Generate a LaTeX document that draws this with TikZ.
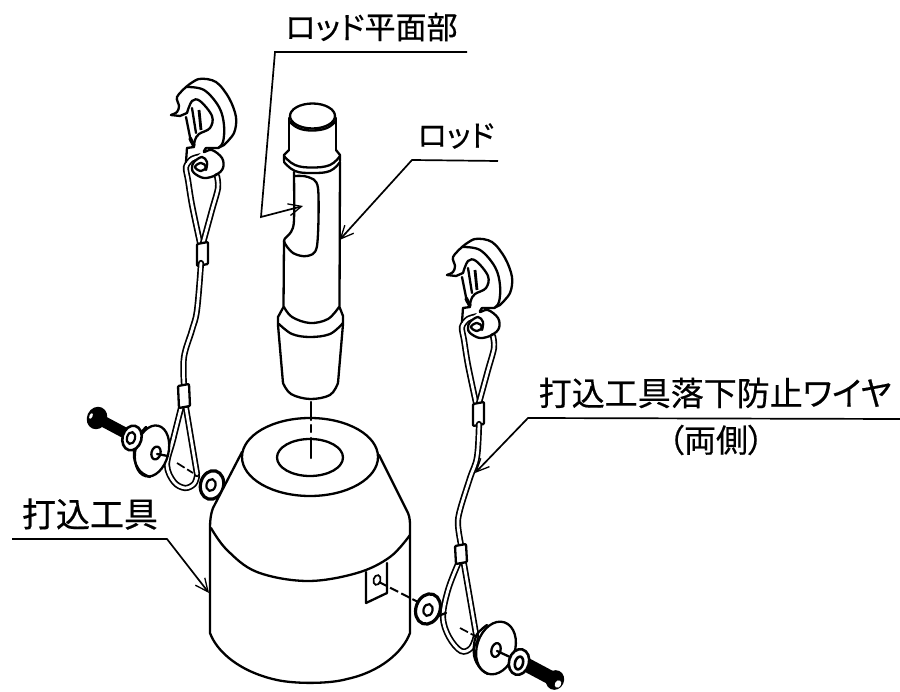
\documentclass[tikz,border=0pt]{standalone}
\usepackage{fontspec}
\usetikzlibrary{arrows.meta}
\setmainfont{Noto Sans CJK JP}[FakeBold=0.5,RawFeature=+palt]
\tikzset{
  ln/.style={line width=2.3pt,line join=round,line cap=round},
  wirestrip/.style={line width=1.7pt,double=white,double distance=2.8pt,line cap=round},
  leader/.style={line width=1.7pt,line join=miter,-{Straight Barb[length=13pt,width=12pt,line width=1.3pt]}},
  lab/.style={inner sep=0pt,font=\fontsize{#1}{#1}\selectfont},
  lab/.default=33
}
\newcommand{\hookdrawing}{%
  % thimble strips (behind the hook eye)
  \draw[wirestrip] plot[smooth,tension=.5] coordinates {(476,403) (468,365) (464,340) (462,327) (468,319) (478,316)};
  \draw[wirestrip] plot[smooth,tension=.5] coordinates {(479,403) (488,370) (494,348) (493,336)};
  % hook back face
  \draw[ln,fill=white] plot[smooth,tension=.55] coordinates {(462,247) (475,239) (492,242) (505,258) (512,277) (510,293) (500,305)} -- (494,308) -- cycle;
  % hook front face
  \path[fill=white] (447,275) -- (453,257) -- (462,247) -- (480,250) -- (495,267) -- (500,285) -- (499,302) -- (494,308) -- (463,308) -- (463,276) -- cycle;
  \draw[ln] plot[smooth,tension=.55] coordinates {(447,275) (453,272) (455,266) (453,257) (462,247)};
  \draw[ln] plot[smooth,tension=.6] coordinates {(462,247) (480,250) (495,267) (500,285) (499,302) (494,308)} -- (482,308);
  \draw[ln] (447,275) -- (456,276) -- (463,273);
  \draw[ln] plot[smooth,tension=.6] coordinates {(463,273) (468,261) (476,261) (488,276) (486,288) (475,294) (471,300) (470,307)};
  \draw[ln] (463,308) -- (470,307);
  \draw[ln] (462,277) -- (467,302);
  \draw[ln] (468,268) -- (472,293);
  \draw[line width=2.8pt] (475,270) -- (477,290);
  \draw[line width=3.6pt] (466,298) -- (470,306);
  % lower eye
  \draw[ln] (463,308) -- (462,322);
  \path[fill=white] (482,308) -- (498,318) -- (499,328) -- (480,338) -- (469,328) -- (472,318) -- cycle;
  \draw[ln] plot[smooth,tension=.6] coordinates {(482,308) (480,312) (488,310) (498,318) (499,328) (492,335) (480,338) (470,333) (468,328) (470,322) (478,317) (483,322) (482,330)};
  \draw[ln] plot[smooth cycle,tension=.7] coordinates {(471,327) (477,323) (482,327) (477,331)};
  % ferrule
  \draw[ln,fill=white,rounded corners=1pt] (473,404) -- (484,402) -- (484,424) -- (473,426) -- cycle;
}
\begin{document}
\begin{tikzpicture}[x=1pt,y=-1pt]
\useasboundingbox (0,0) rectangle (900,692);
\fill[white] (0,0) rectangle (900,692);

% hooks
\hookdrawing
\begin{scope}[shift={(-276,-160)}]\hookdrawing\end{scope}

% left wire, thimble, hardware
\draw[wirestrip] plot[smooth,tension=.6] coordinates {(201,263) (197,310) (192,330) (184,357) (184,385)};
\draw[wirestrip] plot[smooth,tension=.6] coordinates {(181,408) (173,440) (167,465) (174,482) (185,488) (194,484) (197,476)};
\draw[wirestrip] (186,408) -- (197,474);
\draw[ln,fill=white,rounded corners=1pt] (178,386) -- (189,384) -- (190,406) -- (179,408) -- cycle;
\draw[line width=1.7pt,dash pattern=on 9pt off 3pt] (177,463) -- (193,473);
\draw[ln,fill=white] (152,451) ellipse[x radius=16.5,y radius=26,rotate=-14];
\draw[ln] plot[smooth,tension=.6] coordinates {(146,427) (137,439) (134,457) (140,471) (150,477)};
\draw[ln,fill=white] (156,453) ellipse[x radius=4.5,y radius=6.5,rotate=-15];
\draw[ln] (157,454) -- (168,456);
\fill[black,rotate around={-28:(110,425)}] (95,419.5) rectangle (127,430.5);
\fill[black] (97,418) ellipse[x radius=10,y radius=11.5,rotate=-25];
\fill[white] (91,416) ellipse[x radius=1.5,y radius=3,rotate=-25];
\draw[line width=2.6pt,fill=white] (132,438) ellipse[x radius=9.5,y radius=12.5,rotate=-15];
\draw[line width=2.2pt] (131,438) ellipse[x radius=4,y radius=6,rotate=-15];
\draw[line width=3.2pt,fill=white] (212,485) ellipse[x radius=11.5,y radius=14.5,rotate=-15];
\draw[line width=2.2pt] (211,485) ellipse[x radius=4.5,y radius=6,rotate=-15];

% right wire, thimble, hardware
\draw[wirestrip] plot[smooth,tension=.6] coordinates {(479,424) (477,457) (470,478) (460,510) (458,525) (461,545)};
\draw[wirestrip] plot[smooth,tension=.6] coordinates {(458,564) (448,590) (443,617) (449,637) (461,651) (471,648) (476,636)};
\draw[wirestrip] (464,564) -- (476,634);
\draw[ln,fill=white,rounded corners=1pt] (455,546) -- (466,544) -- (467,562) -- (456,564) -- cycle;
\draw[line width=1.7pt,dash pattern=on 9pt off 3pt] (460,628) -- (477,637);
\draw[ln,fill=white] (496,648) ellipse[x radius=19,y radius=27,rotate=-18];
\draw[ln] plot[smooth,tension=.6] coordinates {(487,625) (476,636) (474,655) (480,668) (488,674)};
\draw[ln,fill=white] (496,650) ellipse[x radius=4.5,y radius=7,rotate=-15];
\draw[ln] (497,651) -- (510,657);
\draw[ln] (438,616) -- (446,613);
\draw[line width=3.2pt,fill=white] (428,609) ellipse[x radius=12,y radius=15.5,rotate=-20];
\draw[line width=2.2pt] (428,610) ellipse[x radius=4.5,y radius=6,rotate=-15];
\fill[black,rotate around={-28:(540,672)}] (522,665) rectangle (556,679);
\fill[black] (555,680) ellipse[x radius=9,y radius=10,rotate=-25];
\fill[white] (558,684) ellipse[x radius=3,y radius=4,rotate=-30];
\draw[line width=2.6pt,fill=white] (519,662) ellipse[x radius=10,y radius=13,rotate=-15];
\draw[line width=2.6pt] (519,663) ellipse[x radius=4,y radius=6.5,rotate=-15];

% base
\draw[ln,fill=white] (242,452) -- (213,508) .. controls (211,513) and (210,520) .. (210,527) -- (210,633)
  .. controls (217,652) and (240,672) .. (277,680)
  .. controls (295,684) and (330,684) .. (347,679)
  .. controls (380,672) and (403,652) .. (410,633)
  -- (410,527) .. controls (410,522) and (410,518) .. (408,513) -- (379,455) -- cycle;
\draw[ln,fill=white] (310,457) ellipse[x radius=68,y radius=39];
\draw[ln] (310,457.5) ellipse[x radius=33,y radius=18.5];
\draw[ln] plot[smooth,tension=.6] coordinates {(211,528) (227,550) (257,572) (307,581) (357,573) (390,557) (410,535)};
\draw[ln] (366,572) -- (366,603) -- (387,593) -- (387,563);
\draw[line width=1.7pt] (377,580) ellipse[x radius=3.5,y radius=5,rotate=-15];
\draw[line width=2pt,dash pattern=on 9pt off 3.5pt] (379,582) -- (418,602);

% axis
\draw[ln] (311,402) -- (311,420);
\draw[ln] (311,425) -- (311,432);
\draw[ln] (311,438) -- (311,458);

% rod
\draw[ln] (289,118) -- (289,150);
\draw[ln] (336,118) -- (336,150);
\draw[ln] (312.5,116) ellipse[x radius=22.5,y radius=12.5];
\draw[ln] plot[smooth,tension=.7] coordinates {(289,121) (298,128) (312,130.5) (327,128) (336,121)};
\draw[ln] (289,150) -- (284,155) -- (284,161);
\draw[ln] (336,150) -- (340,155) -- (340,161);
\draw[ln] plot[smooth,tension=.7] coordinates {(284,156) (295,165) (312,167.5) (330,165) (340,156)};
\draw[ln] plot[smooth,tension=.7] coordinates {(284,162) (295,171) (312,173) (330,171) (340,162)};
\draw[ln] (340,162) -- (339.5,307) -- (343,316) -- (343,324) -- (338,383);
\draw[ln] plot[smooth,tension=.5] coordinates {(294,172) (294,220) (291,232) (284,241) (293,253) (307,256) (317,246) (318,188) (308,177) (294,176)};
\draw[ln] (284,241) -- (283.5,307) -- (278,317) -- (278,325) -- (283,383);
\draw[ln] plot[smooth,tension=.6] coordinates {(284,307) (292,317) (310,323) (328,319) (339,307)};
\draw[ln] plot[smooth,tension=.6] coordinates {(279,324) (292,334) (310,337) (330,334) (343,323)};
\draw[ln] plot[smooth,tension=.6] coordinates {(283,383) (291,394) (310,399) (330,395) (338,383)};

% labels
\node[lab=31,anchor=center] (lflat) at (371.5,27) {ロッド平面部};
\node[lab=30,anchor=center] (lrod) at (456,136) {ロッド};
\node[lab=34,anchor=center] (ltool) at (90,514) {打込工具};
\node[lab=33,anchor=center] (lwire) at (715,393) {打込工具落下防止ワイヤ};
\node[lab=32,anchor=center] (lboth) at (716,440) {（両側）};

% leaders
\coordinate (a1) at (467,52);
\coordinate (a2) at (275,52);
\coordinate (a3) at (261,217);
\coordinate (a4) at (303,206);
\draw[leader] (a1) -- (a2) -- (a3) -- (a4);
\coordinate (b1) at (498,161);
\coordinate (b2) at (412,160);
\coordinate (b3) at (339.5,240);
\draw[leader] (b1) -- (b2) -- (b3);
\coordinate (c1) at (12,539);
\coordinate (c2) at (167,539);
\coordinate (c3) at (209,593);
\draw[leader] (c1) -- (c2) -- (c3);
\coordinate (d1) at (900,419);
\coordinate (d2) at (528,418);
\coordinate (d3) at (475,473);
\draw[leader] (d1) -- (d2) -- (d3);
\end{tikzpicture}
\end{document}
